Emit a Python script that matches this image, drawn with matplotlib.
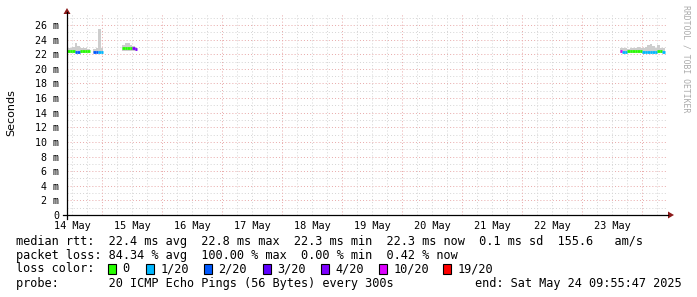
import numpy as np
import matplotlib
matplotlib.use("Agg")
import matplotlib.pyplot as plt
from matplotlib.patches import Polygon, Rectangle
from matplotlib.lines import Line2D

# ---- data (hours since 14 May 09:55:47, values in ms) ----
bin_start_h = [0, 1, 2, 3, 4, 5, 6, 7, 8,
               10.5, 11.5, 12.5, 13.5,
               22, 23, 24, 25, 26, 27,
               221, 222, 223, 224, 225, 226, 227, 228, 229,
               230, 231, 232, 233, 234, 235, 236, 237, 238]
median_ms = [22.4, 22.4, 22.4, 22.3, 22.3, 22.4, 22.4, 22.4, 22.4,
             22.3, 22.3, 22.3, 22.3,
             22.8, 22.8, 22.9, 22.8, 22.8, 22.7,
             22.4, 22.3, 22.3, 22.4, 22.4, 22.4, 22.4, 22.4, 22.4,
             22.3, 22.3, 22.3, 22.3, 22.3, 22.3, 22.4, 22.4, 22.3]
loss_idx = [0, 0, 0, 2, 2, 0, 0, 0, 0,
            2, 2, 1, 1,
            0, 0, 0, 0, 4, 4,
            5, 1, 1, 0, 0, 0, 0, 0, 0,
            1, 1, 1, 1, 1, 1, 0, 0, 1]
smoke_hi = [22.8, 22.8, 23.0, 23.5, 23.1, 22.9, 22.8, 22.9, 22.7,
            22.7, 22.8, 25.5, 22.8,
            23.2, 23.5, 23.6, 23.3, 23.1, 22.9,
            22.8, 22.8, 22.9, 22.7, 22.8, 22.8, 22.9, 23.0, 22.8,
            22.9, 23.0, 23.2, 23.4, 23.1, 22.9, 23.3, 22.9, 22.8]
smoke_lo = [22.1] * 13 + [22.4] * 6 + [22.1] * 18

loss_colors = ["#26ff00", "#00b8ff", "#0059ff", "#5e00ff", "#7e00ff", "#dd00ff", "#ff0000"]
loss_labels = ["0", "1/20", "2/20", "3/20", "4/20", "10/20", "19/20"]
day_labels = ["14 May", "15 May", "16 May", "17 May", "18 May",
              "19 May", "20 May", "21 May", "22 May", "23 May"]
ytick_vals = list(range(0, 27, 2))

W, H = 697, 297
fig = plt.figure(figsize=(W / 100, H / 100), dpi=100)
fig.patch.set_facecolor("white")


def fx(x):
    return x / W


def fy(y):
    return 1 - y / H


ax = fig.add_axes([fx(67), fy(215), 600 / W, (215 - 13.3) / H])
ax.set_xlim(0, 240)
ax.set_ylim(0, 27.6)
for s in ax.spines.values():
    s.set_visible(False)

minor_c = "#d4d4d4"
major_c = "#e8a8a8"
dots = (0, (1, 2.2))
for v in range(1, 28):
    ax.axhline(v, color=major_c if v % 2 == 0 else minor_c, lw=0.7, ls=dots, zorder=0)
midnight = 24 - (9 + 55 / 60 + 47 / 3600)
for k in range(-2, 40):
    h = midnight + 6 * k
    if 0 < h < 240:
        ax.axvline(h, color=major_c if k % 4 == 0 else minor_c, lw=0.7, ls=dots, zorder=0)

# smoke
for t, lo, hi in zip(bin_start_h, smoke_lo, smoke_hi):
    ax.bar(t, hi - lo, bottom=lo, width=1.0, align="edge", color="#cdcdcd", lw=0, zorder=1)
# median coloured by loss
for t, m, li in zip(bin_start_h, median_ms, loss_idx):
    ax.hlines(m, t, t + 1.0, color=loss_colors[li], lw=2.0, capstyle="butt", zorder=2)

mono = "DejaVu Sans Mono"
ax.set_xticks([midnight - 12 + 24 * i for i in range(len(day_labels))])
ax.set_xticklabels(day_labels, family=mono, fontsize=7.4)
ax.set_yticks(ytick_vals)
ax.set_yticklabels(["0" if v == 0 else f"{v} m" for v in ytick_vals], family=mono, fontsize=7.2)
ax.tick_params(axis="x", length=0, pad=4)
ax.tick_params(axis="y", length=0, pad=5.5)

# axes with arrows
fig.add_artist(Line2D([fx(63), fx(668)], [fy(215), fy(215)], color="black", lw=0.9))
fig.add_artist(Line2D([fx(67), fx(67)], [fy(219), fy(12)], color="black", lw=0.9))
arrow_c = "#8b1a1a"
fig.add_artist(Polygon([(fx(668), fy(211.5)), (fx(668), fy(218.5)), (fx(674), fy(215))],
                       closed=True, color=arrow_c, lw=0))
fig.add_artist(Polygon([(fx(63.5), fy(14)), (fx(70.5), fy(14)), (fx(67), fy(8))],
                       closed=True, color=arrow_c, lw=0))

fig.text(fx(11), fy(113), "Seconds", rotation=90, ha="center", va="center", fontsize=8)
fig.text(fx(686), fy(5), "RRDTOOL / TOBI OETIKER", rotation=270, ha="center", va="top",
         fontsize=5.9, color="#aaaaaa", family=mono)

fs = 8.55
fig.text(fx(16), fy(241), "median rtt:  22.4 ms avg  22.8 ms max  22.3 ms min  22.3 ms now  0.1 ms sd  155.6   am/s",
         family=mono, fontsize=fs, va="center")
fig.text(fx(16), fy(255), "packet loss: 84.34 % avg  100.00 % max  0.00 % min  0.42 % now",
         family=mono, fontsize=fs, va="center")
fig.text(fx(16), fy(269), "loss color:", family=mono, fontsize=fs, va="center")
box_x = [108, 146, 204, 263, 321, 379, 443]
for bx, c, lab in zip(box_x, loss_colors, loss_labels):
    fig.add_artist(Rectangle((fx(bx), fy(274)), 8 / W, 10 / H, facecolor=c,
                             edgecolor="black", lw=0.8))
    fig.text(fx(bx + 14.5), fy(269), lab, family=mono, fontsize=fs, va="center")
fig.text(fx(16), fy(283), "probe:       20 ICMP Echo Pings (56 Bytes) every 300s",
         family=mono, fontsize=fs, va="center")
fig.text(fx(682), fy(283), "end: Sat May 24 09:55:47 2025", family=mono, fontsize=fs,
         va="center", ha="right")

fig.savefig("out.png", dpi=100)
